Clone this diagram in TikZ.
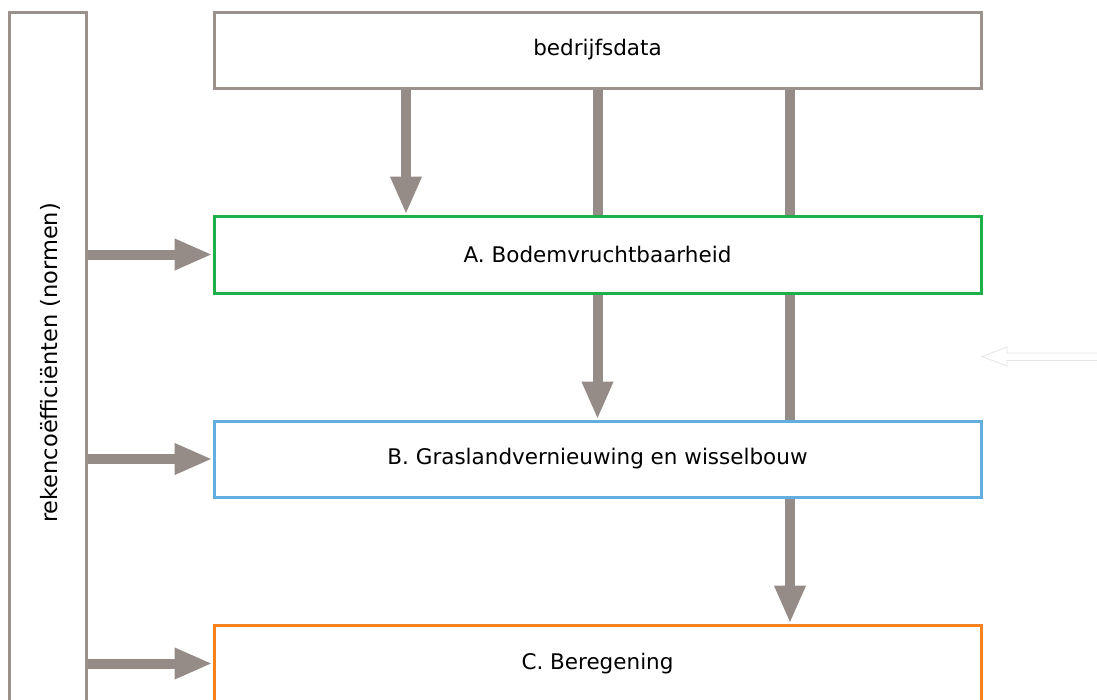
\documentclass[tikz,border=0pt]{standalone}
\usepackage{fontspec}
\setmainfont{DejaVu Sans}
\usetikzlibrary{arrows.meta}
\definecolor{flow}{HTML}{958C87}
\definecolor{frame}{HTML}{9B928D}
\definecolor{boxgreen}{HTML}{1DAF4A}
\definecolor{boxblue}{HTML}{62AEE0}
\definecolor{boxorange}{HTML}{F5821F}
\definecolor{ghost}{HTML}{E4E4E4}
\begin{document}
\begin{tikzpicture}[x=1pt,y=-1pt,
  txt/.style={font=\fontsize{21.5}{25}\selectfont},
  stage/.style={draw, line width=3pt, minimum width=767pt, inner sep=0pt, txt},
  feed/.style={draw=flow, line width=10pt, -{Triangle[length=38pt,width=29pt]}},
  link/.style={draw=flow, line width=10pt}]
\useasboundingbox (0,0) rectangle (1097,699);
\begin{scope}
\clip (0,0) rectangle (1097,699);
% calculation norms column on the left
\node[draw=frame, line width=3pt, minimum width=77pt, minimum height=692pt, inner sep=0pt] (norms) at (48,358) {};
\node[font=\fontsize{22.5}{26}\selectfont, rotate=90] (normstext) at (50,363) {rekencoëfficiënten (normen)};
% stages
\node[stage, draw=frame, minimum height=76pt] (data) at (597.5,50) {bedrijfsdata};
\node[stage, draw=boxgreen, minimum height=77pt] (A) at (597.5,254.5) {A. Bodemvruchtbaarheid};
\node[stage, draw=boxblue, minimum height=76pt] (B) at (597.5,459) {B. Graslandvernieuwing en wisselbouw};
\node[stage, draw=boxorange, minimum height=77pt] (C) at (597.5,663.5) {C. Beregening};
% data flows
\draw[feed] ([xshift=-191.5pt]data.south) -- ([xshift=-191.5pt]A.north);
\draw[link] (data.south) -- (A.north);
\draw[link] ([xshift=192.5pt]data.south) -- ([xshift=192.5pt]A.north);
\draw[feed] (A.south) -- (B.north);
\draw[link] ([xshift=192.5pt]A.south) -- ([xshift=192.5pt]B.north);
\draw[feed] ([xshift=192.5pt]B.south) -- ([xshift=192.5pt]C.north);
% norms feeding each stage
\draw[feed] (norms.east |- A.west) -- (A.west);
\draw[feed] (norms.east |- B.west) -- (B.west);
\draw[feed] (norms.east |- C.west) -- (C.west);
% faint outlined arrow at the right margin
\draw[ghost, line width=0.8pt] (1097,353) -- (1007,353) -- (1007,347) -- (982,356.5) -- (1007,366) -- (1007,360.5) -- (1097,360.5);
\end{scope}
\end{tikzpicture}
\end{document}
